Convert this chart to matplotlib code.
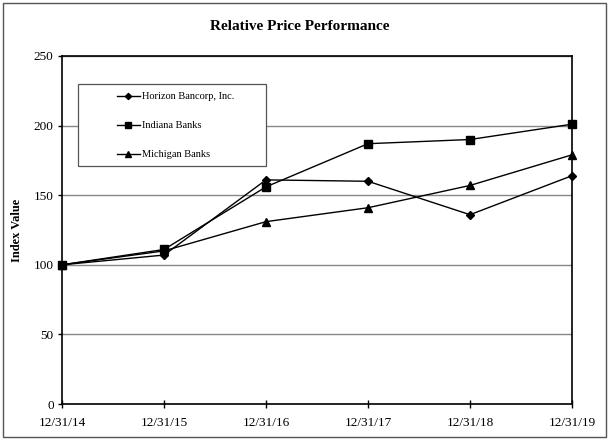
import matplotlib
matplotlib.use("Agg")
import matplotlib.pyplot as plt
from matplotlib.patches import Rectangle

dates = ["12/31/14", "12/31/15", "12/31/16", "12/31/17", "12/31/18", "12/31/19"]
horizon = [100, 107, 161, 160, 136, 164]
indiana = [100, 111, 156, 187, 190, 201]
michigan = [100, 110, 131, 141, 157, 179]
yticks = [0, 50, 100, 150, 200, 250]

plt.rcParams['font.family'] = ['Liberation Serif', 'DejaVu Serif']

fig = plt.figure(figsize=(6.09, 4.40), dpi=100)
ax = fig.add_axes([62/609, 1-404/440, (572-62)/609, (404-56)/440])

x = list(range(len(dates)))
ax.plot(x, horizon, color='black', lw=1, marker='D', ms=4.5, label='Horizon Bancorp, Inc.', clip_on=False, zorder=5)
ax.plot(x, indiana, color='black', lw=1, marker='s', ms=6, label='Indiana Banks', clip_on=False, zorder=5)
ax.plot(x, michigan, color='black', lw=1, marker='^', ms=6, label='Michigan Banks', clip_on=False, zorder=5)

ax.set_xlim(0, 5)
ax.set_ylim(0, 250)
ax.set_xticks(x)
ax.set_xticklabels(dates, fontsize=9.5)
ax.set_yticks(yticks)
ax.set_yticklabels([str(v) for v in yticks], fontsize=9.5)
ax.tick_params(axis='x', direction='inout', length=6, width=1, pad=6)
ax.tick_params(axis='y', direction='out', length=3, width=1, pad=3)
ax.yaxis.grid(True, color='#888888', lw=1)
ax.set_axisbelow(True)
for s in ax.spines.values():
    s.set_linewidth(1.2)
    s.set_color('black')

ax.set_ylabel('Index Value', fontsize=9, fontweight='bold', labelpad=8)
fig.text(300/609, 1-27/440, 'Relative Price Performance', ha='center', va='center',
         fontsize=11, fontweight='bold')

# legend frame box
box = Rectangle(((78-62)/510, 1-(166-56)/348), (266-78)/510, (166-84)/348, transform=ax.transAxes,
                facecolor='white', edgecolor='#555555', lw=0.9, zorder=3)
ax.add_patch(box)
leg = ax.legend(loc='upper left', bbox_to_anchor=((117-62)/510, 1-(92-56)/348),
                fontsize=7.5, frameon=False, borderpad=0, borderaxespad=0, markerscale=0.7,
                labelspacing=1.9, handlelength=2.2, handletextpad=0.2)
leg.set_zorder(4)

fig.patches.append(Rectangle((3/609, 3/440), 603/609, 434/440, transform=fig.transFigure,
                             fill=False, edgecolor='#555555', lw=1))

fig.savefig('out.png', dpi=100)
